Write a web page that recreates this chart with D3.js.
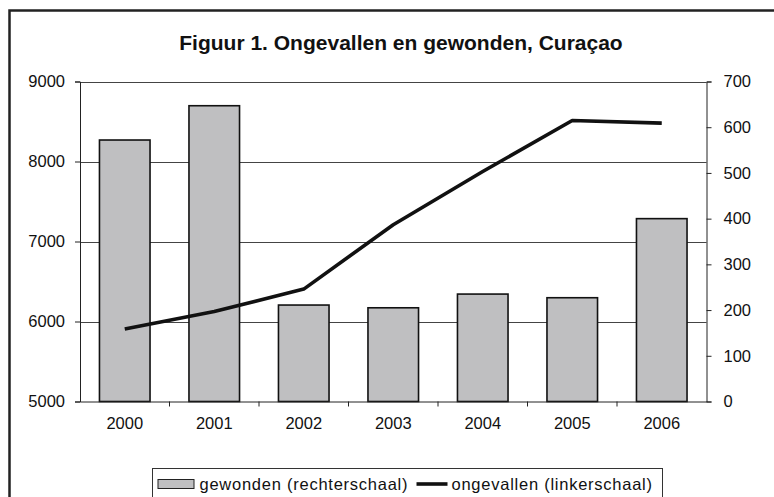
<!DOCTYPE html>
<html>
<head>
<meta charset="utf-8">
<script src="https://cdn.jsdelivr.net/npm/d3@7"></script>
<style>
  body { margin: 0; background: #fff; }
  svg { display: block; font-family: "Liberation Sans", Arial, sans-serif; }
</style>
</head>
<body>
<div id="chart"></div>
<script>
// data
const years = ["2000", "2001", "2002", "2003", "2004", "2005", "2006"];
const gewonden = [572, 647, 211, 205, 235, 227, 400];       // bars, right scale
const ongevallen = [5905, 6125, 6405, 7210, 7875, 8512, 8480]; // line, left scale
const leftTicks = [5000, 6000, 7000, 8000, 9000];
const rightTicks = [0, 100, 200, 300, 400, 500, 600, 700];
const titleText = "Figuur 1. Ongevallen en gewonden, Curaçao";
const legendBar = "gewonden (rechterschaal)";
const legendLine = "ongevallen (linkerschaal)";

const width = 774, height = 497;
const margin = {top: 81.5, bottom: 95.5, left: 80, right: 67.5};
const tickFont = "16.5px";

const svg = d3.select("#chart").append("svg")
    .attr("width", width)
    .attr("height", height);

// outer frame (only left and top edges are visible in the crop)
svg.append("path")
    .attr("d", `M9.5,${height + 5} L9.5,10.5 L${width + 5},10.5`)
    .attr("fill", "none")
    .attr("stroke", "#222")
    .attr("stroke-width", 2.5);

svg.append("text")
    .attr("x", 401)
    .attr("y", 50)
    .attr("text-anchor", "middle")
    .attr("font-size", "21px")
    .attr("font-weight", "bold")
    .attr("fill", "#111")
    .text(titleText);

const x = d3.scaleBand()
    .domain(years)
    .range([margin.left, width - margin.right])
    .paddingInner(0.435)
    .paddingOuter(0.2175);

const band = d3.scaleBand()
    .domain(years)
    .range([margin.left, width - margin.right]);

const yL = d3.scaleLinear()
    .domain([5000, 9000])
    .range([height - margin.bottom, margin.top]);

const yR = d3.scaleLinear()
    .domain([0, 700])
    .range([height - margin.bottom, margin.top]);

// gridlines
svg.append("g")
    .selectAll("line")
    .data(leftTicks.slice(1))
    .join("line")
    .attr("x1", margin.left)
    .attr("x2", width - margin.right)
    .attr("y1", d => Math.round(yL(d)) + 0.5)
    .attr("y2", d => Math.round(yL(d)) + 0.5)
    .attr("stroke", "#444")
    .attr("stroke-width", 1);

// bars
svg.append("g")
    .selectAll("rect")
    .data(gewonden)
    .join("rect")
    .attr("x", (d, i) => x(years[i]))
    .attr("y", d => yR(d))
    .attr("width", x.bandwidth())
    .attr("height", d => yR(0) - yR(d))
    .attr("fill", "#bfbfc1")
    .attr("stroke", "#111")
    .attr("stroke-width", 1.6);

// line
const line = d3.line()
    .x((d, i) => band(years[i]) + band.bandwidth() / 2)
    .y(d => yL(d));

svg.append("path")
    .datum(ongevallen)
    .attr("d", line)
    .attr("fill", "none")
    .attr("stroke", "#111")
    .attr("stroke-width", 3.6)
    .attr("stroke-linejoin", "round");

// axes
function leftAxis(g) {
    g.attr("transform", `translate(${margin.left},0)`)
        .call(d3.axisLeft(yL).tickValues(leftTicks).tickSize(5).tickPadding(10).tickFormat(d3.format("d")))
        .attr("font-size", tickFont)
        .attr("font-family", "Liberation Sans, Arial, sans-serif");
}
function rightAxis(g) {
    g.attr("transform", `translate(${width - margin.right},0)`)
        .call(d3.axisRight(yR).tickValues(rightTicks).tickSize(5).tickPadding(12))
        .attr("font-size", tickFont)
        .attr("font-family", "Liberation Sans, Arial, sans-serif");
}
function bottomAxis(g) {
    g.attr("transform", `translate(0,${height - margin.bottom})`)
        .call(d3.axisBottom(band).tickSize(0).tickPadding(16))
        .attr("font-size", tickFont)
        .attr("font-family", "Liberation Sans, Arial, sans-serif");
    // tick marks sit between categories
    g.selectAll(".sep")
        .data(years.slice(1))
        .join("line")
        .attr("class", "sep")
        .attr("x1", d => band(d))
        .attr("x2", d => band(d))
        .attr("y1", 0)
        .attr("y2", 5)
        .attr("stroke", "#222");
}

[svg.append("g").call(leftAxis), svg.append("g").call(rightAxis), svg.append("g").call(bottomAxis)]
    .forEach(g => {
        g.selectAll(".domain, .tick line").attr("stroke", "#222");
        g.selectAll("text").attr("fill", "#111");
    });

// legend
const lg = svg.append("g").attr("transform", "translate(152.5,468.5)");
lg.append("rect")
    .attr("width", 510)
    .attr("height", 40)
    .attr("fill", "#fff")
    .attr("stroke", "#333");
lg.append("rect")
    .attr("x", 5.5).attr("y", 11)
    .attr("width", 36).attr("height", 9)
    .attr("fill", "#bfbfc1")
    .attr("stroke", "#222");
lg.append("text")
    .attr("x", 47).attr("y", 21)
    .attr("font-size", "16.5px")
    .attr("letter-spacing", "0.75px")
    .attr("fill", "#111")
    .text(legendBar);
lg.append("line")
    .attr("x1", 264).attr("x2", 295)
    .attr("y1", 15.5).attr("y2", 15.5)
    .attr("stroke", "#111")
    .attr("stroke-width", 3.6);
lg.append("text")
    .attr("x", 299).attr("y", 21)
    .attr("font-size", "16.5px")
    .attr("letter-spacing", "0.75px")
    .attr("fill", "#111")
    .text(legendLine);
</script>
</body>
</html>
